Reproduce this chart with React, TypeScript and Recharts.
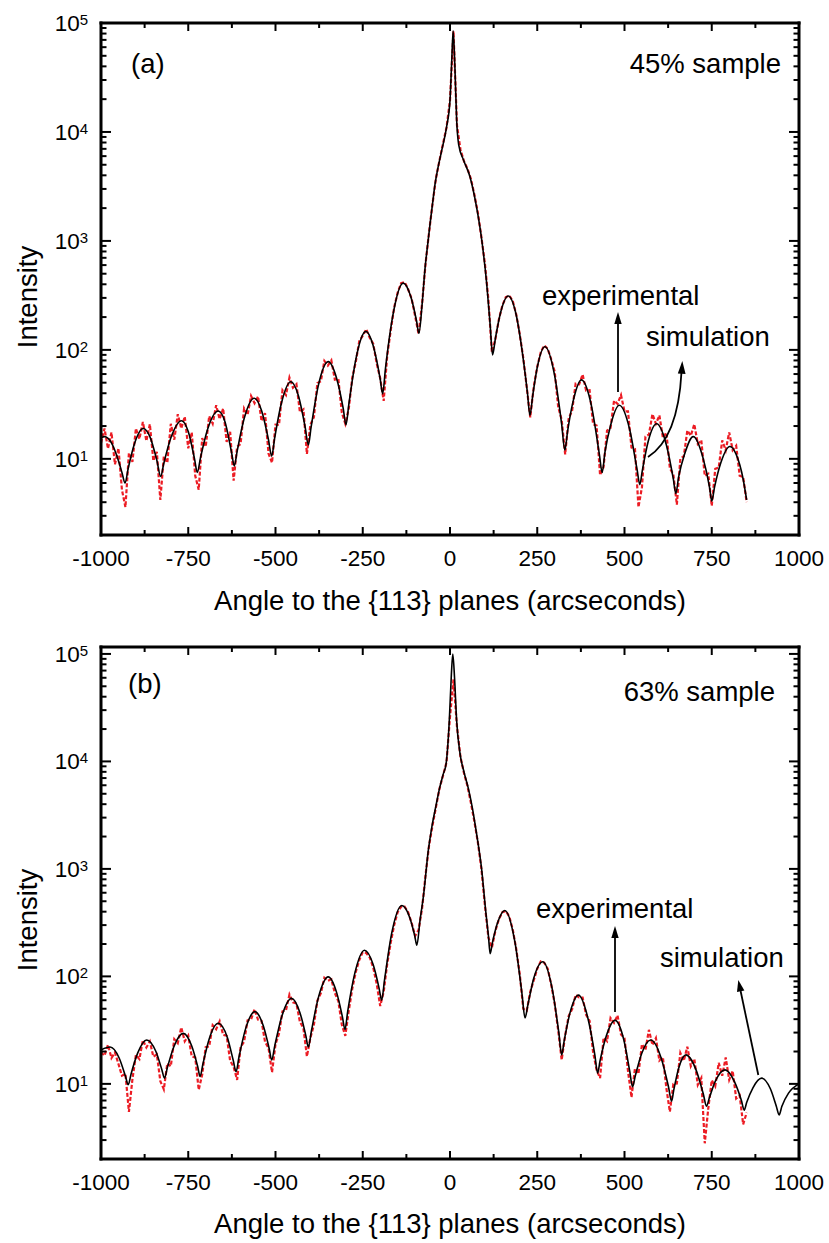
import React from "react";
import { LineChart, Line, XAxis, YAxis } from "recharts";

const FONT = '"Liberation Sans", Arial, Helvetica, sans-serif';

// axis ticks
const xTicks = [-1000, -875, -750, -625, -500, -375, -250, -125, 0, 125, 250, 375, 500, 625, 750, 875, 1000];
const xLabelTicks = [-1000, -750, -500, -250, 0, 250, 500, 750, 1000];
const yMajor = [10, 100, 1000, 10000, 100000];
const yMinor = [
  2, 3, 4, 5, 6, 7, 8, 9,
  20, 30, 40, 50, 60, 70, 80, 90,
  200, 300, 400, 500, 600, 700, 800, 900,
  2000, 3000, 4000, 5000, 6000, 7000, 8000, 9000,
  20000, 30000, 40000, 50000, 60000, 70000, 80000, 90000,
];
const yExponent: Record<number, string> = { 10: "1", 100: "2", 1000: "3", 10000: "4", 100000: "5" };

// simulation (a) 45% sample: [angle, intensity]
const simA: [number, number][] = [
  [-1000, 15.5], [-990, 16], [-970, 14], [-950, 9.6], [-940, 7.5], [-931, 6],
  [-922, 8.2], [-905, 13.5], [-879, 19],
  [-860, 16], [-840, 9.7], [-829, 6.9],
  [-820, 9.1], [-800, 15.5], [-769, 22.4],
  [-750, 17.8], [-732, 10], [-724, 7.5],
  [-715, 10.2], [-695, 18.5], [-664, 27.5],
  [-645, 22], [-626, 11.5], [-618, 8.6],
  [-610, 11.7], [-590, 23.3], [-561, 36],
  [-540, 27.8], [-520, 14.9], [-511, 10.6],
  [-502, 15.8], [-484, 31.5], [-456, 51],
  [-435, 38.5], [-415, 19.5], [-406, 13.4],
  [-398, 19.5], [-378, 46], [-349, 78],
  [-325, 55], [-306, 29], [-298, 20.5],
  [-290, 31.5], [-270, 81.5], [-241, 148],
  [-220, 109], [-200, 53.8], [-193, 39.5],
  [-185, 67], [-164, 205], [-134, 410],
  [-112, 305], [-96, 185], [-89, 142],
  [-80, 260], [-72, 540], [-62, 1050], [-57, 1450], [-50, 2200], [-43, 3300], [-35, 4600],
  [-24, 6700], [-10, 11000], [0, 19600], [5, 45000], [9, 85000], [14, 40000], [19, 13000],
  [25, 7600], [39, 5500], [57, 3900], [76, 2050], [91, 1020], [105, 410], [115, 170], [122, 90],
  [130, 127], [145, 220], [167, 312],
  [190, 207], [210, 82], [222, 40], [229, 25],
  [237, 38], [250, 69], [272, 107],
  [300, 57.7], [320, 20.7], [329, 12],
  [337, 18], [353, 34], [377, 53],
  [405, 31], [428, 11], [436, 7.5],
  [444, 11.5], [460, 20.2], [485, 31],
  [515, 18.5], [536, 8], [544, 5.8],
  [551, 7.8], [568, 14.5], [592, 21],
  [620, 13.4], [640, 6.5], [647, 4.8],
  [655, 6.8], [672, 11], [697, 16],
  [725, 10.2], [744, 5.4], [750, 4.1],
  [758, 5.5], [776, 9.2], [802, 13],
  [820, 11], [840, 6.5], [850, 4.2],
];

// simulation (b) 63% sample
const simB: [number, number][] = [
  [-1000, 20.7], [-974, 22], [-948, 17.4], [-930, 11.8], [-922, 9.8],
  [-914, 12.3], [-895, 19.3], [-869, 25.6],
  [-843, 20.1], [-826, 13.7], [-818, 11.3],
  [-810, 14.1], [-791, 22.3], [-764, 29.5],
  [-740, 22.5], [-723, 14.5], [-716, 11.7],
  [-708, 15.3], [-690, 26.2], [-664, 36.6],
  [-638, 27], [-621, 16.5], [-613, 13],
  [-605, 17.5], [-586, 32.3], [-559, 47],
  [-535, 34.7], [-518, 21.2], [-511, 16.7],
  [-502, 22.7], [-482, 42.4], [-454, 62.5],
  [-430, 46], [-413, 28], [-406, 22],
  [-397, 31.2], [-377, 63.8], [-349, 99],
  [-325, 71], [-308, 41.6], [-301, 32],
  [-293, 47.6], [-273, 106], [-245, 175],
  [-220, 128], [-203, 77], [-196, 60],
  [-187, 96], [-167, 252], [-138, 457],
  [-116, 357], [-101, 238], [-95, 195],
  [-86, 330], [-76, 560], [-62, 1500], [-52, 2460], [-40, 3900], [-29, 5800], [-20, 7500],
  [-11, 9600], [-2, 24000], [4, 65000], [8, 100000], [13, 60000], [19, 24000], [29, 11700],
  [40, 8000], [52, 5700], [64, 3700], [76, 2140], [91, 970], [103, 385], [110, 240], [115, 163],
  [121, 202], [136, 313], [157, 410],
  [186, 209], [206, 70], [215, 41],
  [223, 54], [240, 96], [266, 137],
  [293, 76], [312, 29.6], [320, 18.6],
  [327, 25], [344, 46], [368, 67],
  [395, 41], [415, 18.6], [423, 12.6],
  [430, 16.4], [448, 28], [473, 39],
  [498, 25.7], [515, 13.1], [523, 9.4],
  [531, 11.9], [549, 19.1], [575, 25.6],
  [605, 17.4], [626, 9.4], [635, 6.9],
  [641, 8.7], [655, 13.9], [676, 18.6],
  [705, 13.5], [726, 8.0], [735, 6.2],
  [743, 7.4], [761, 10.7], [788, 13.5],
  [815, 10.5], [835, 7.0], [843, 5.7],
  [850, 6.7], [868, 9.2], [893, 11.3],
  [918, 9.0], [935, 6.2], [943, 5.15],
  [951, 6.2], [970, 8.2], [1000, 10],
];

// experimental scans, one reading every 10 arcsec from -1000 to 850
const expStart = -1000;
const expStep = 10;
const expA = [
  14, 19, 12.4, 17.5, 8.9, 12.5, 5.2, 3.6, 11.3, 9.4,
  19, 15.2, 21.8, 14.6, 20.8, 9.6, 11.6, 4.2, 10.5, 9.2,
  21, 15, 25.7, 19, 24.4, 12.5, 17.5, 7, 5.2, 15.5,
  12.9, 24.7, 21, 31, 23.2, 29, 14.3, 17.7, 6.3, 12.9,
  13.7, 29, 25.3, 37.8, 32.4, 37.4, 22.2, 26.3, 11.2, 9.2,
  20.6, 20.5, 42.7, 38.5, 55.7, 44.9, 48.5, 26.8, 28.4, 11.1,
  20.6, 24.1, 49.5, 51.6, 79.2, 71.8, 80, 53.4, 54.4, 26.6,
  21, 29, 55.7, 77.4, 120, 135, 155, 129, 114, 74.8,
  55, 34, 88, 150, 245, 335, 410, 420, 360, 295,
  205, 140, 265, 620, 1200, 2200, 3800, 5500, 7800, 11000,
  19500, 84000, 11500, 6900, 5400, 4600, 3700, 2650, 1800, 1080,
  620, 290, 95, 125, 190, 255, 305, 315, 280, 210,
  138, 84, 45, 24, 46, 70, 95, 110, 102, 82,
  63, 30, 22.8, 11, 23.3, 27.8, 49, 48.3, 59.4, 42.3,
  42.6, 20.8, 20.2, 7.1, 8.4, 18.2, 19.2, 34.2, 32, 38.5,
  27.3, 27.3, 12.7, 12.3, 3.6, 5.5, 16, 16.7, 25.7, 21,
  25.1, 15.6, 17.4, 8.2, 7.2, 3.8, 10, 10.6, 18.2, 16.3,
  20.8, 13.7, 14.8, 7, 7.3, 3.7, 8.1, 8.3, 14.8, 12,
  17.5, 12, 13.2, 7, 6.8, 4,
];
const expB = [
  19.7, 18.3, 23.1, 17.4, 19.6, 15.3, 11.9, 12.4, 5.5, 11,
  18.6, 17, 25.5, 21.8, 24.8, 17.9, 18.8, 10.6, 8.9, 15.5,
  14.6, 26.1, 23.9, 33.5, 24.9, 28.1, 18, 17.6, 8.8, 12.2,
  22, 22.3, 35.2, 32.3, 38.2, 28.6, 28, 16.4, 14.4, 10.9,
  22, 24.7, 39, 39.8, 49.4, 39.5, 38.5, 24.6, 21.6, 12.8,
  23.4, 29.3, 47.3, 48.4, 67.8, 57.3, 55.9, 37.7, 33, 18,
  26.8, 35.4, 59.5, 69.8, 97, 91, 94, 70, 58.9, 35.7,
  28, 48, 77, 110, 142, 168, 165, 150, 121, 85,
  53, 72, 130, 205, 300, 395, 445, 445, 395, 315,
  238, 270, 430, 880, 1650, 2550, 3800, 5600, 7400, 9800,
  26000, 58000, 21000, 11000, 7800, 5900, 4100, 2750, 1750, 1000,
  460, 230, 185, 265, 340, 395, 405, 360, 270, 178,
  104, 50, 48, 72, 92, 118, 138, 134, 118, 84,
  55.6, 31.4, 16.7, 28.3, 42.8, 49.7, 67.2, 63.7, 63.6, 43.8,
  38.6, 19.8, 13.5, 11.3, 26.9, 25, 41, 36.9, 43.4, 28.8,
  26.5, 13.2, 7.5, 13.9, 12.4, 23.4, 20.7, 31.8, 23, 26.7,
  16.5, 17.7, 9.1, 5.5, 10, 10.1, 19.4, 16.4, 22.2, 14.6,
  17.1, 9.8, 11.3, 2.8, 5.9, 10.8, 9.5, 15.7, 11.9, 17.6,
  10.9, 13.2, 7.3, 7.8, 4.2, 5.4,
];

const toRows = (pairs: [number, number][]) => pairs.map(([x, y]) => ({ x, y }));
const expRows = (vals: number[]) => vals.map((y, i) => ({ x: expStart + i * expStep, y }));

const XTick = ({ x, y, payload, top }: any) => {
  const major = xLabelTicks.includes(payload.value);
  const len = major ? 8 : 5;
  return (
    <g>
      <line x1={x} x2={x} y1={y} y2={top ? y + len : y - len} stroke="#000" strokeWidth={2} />
      {!top && major && (
        <text x={x} y={y + 31} textAnchor="middle" fontSize={22.5} fontFamily={FONT} fill="#000">
          {payload.value}
        </text>
      )}
    </g>
  );
};

const YTick = ({ x, y, payload, right }: any) => {
  const v = payload.value;
  const major = yMajor.includes(v);
  const len = major ? 10 : 5.5;
  return (
    <g>
      <line x1={x} x2={right ? x - len : x + len} y1={y} y2={y} stroke="#000" strokeWidth={2} />
      {!right && major && (
        <text x={x - 13} y={y + 8} textAnchor="end" fontSize={22.5} fontFamily={FONT} fill="#000">
          10
          <tspan dy={-6} fontSize={15}>
            {yExponent[v]}
          </tspan>
        </text>
      )}
    </g>
  );
};

const axisLine = { stroke: "#000", strokeWidth: 3, strokeLinecap: "square" as const };

const Panel = ({
  sim,
  exp,
  yMax,
  height,
  topPad,
  bottomPad,
}: {
  sim: [number, number][];
  exp: number[];
  yMax: number;
  height: number;
  topPad: number;
  bottomPad: number;
}) => {
  const yTicks = [...yMinor, ...yMajor].filter((t) => t <= yMax).sort((a, b) => a - b);
  return (
    <LineChart width={829} height={height} margin={{ top: 0, right: 0, bottom: 0, left: 0 }}>
      <XAxis
        xAxisId="b"
        dataKey="x"
        type="number"
        domain={[-1000, 1000]}
        ticks={xTicks}
        interval={0}
        allowDataOverflow
        height={bottomPad}
        tickLine={false}
        tickSize={0}
        tickMargin={0}
        axisLine={axisLine}
        tick={(p: any) => <XTick {...p} />}
      />
      <XAxis
        xAxisId="t"
        orientation="top"
        dataKey="x"
        type="number"
        domain={[-1000, 1000]}
        ticks={xTicks}
        interval={0}
        allowDataOverflow
        height={topPad}
        tickLine={false}
        tickSize={0}
        tickMargin={0}
        axisLine={axisLine}
        tick={(p: any) => <XTick {...p} top />}
      />
      <YAxis
        yAxisId="l"
        type="number"
        scale="log"
        domain={[2, yMax]}
        ticks={yTicks}
        interval={0}
        allowDataOverflow
        width={101}
        tickLine={false}
        tickSize={0}
        tickMargin={0}
        axisLine={axisLine}
        tick={(p: any) => <YTick {...p} />}
      />
      <YAxis
        yAxisId="r"
        orientation="right"
        type="number"
        scale="log"
        domain={[2, yMax]}
        ticks={yTicks}
        interval={0}
        allowDataOverflow
        width={30}
        tickLine={false}
        tickSize={0}
        tickMargin={0}
        axisLine={axisLine}
        tick={(p: any) => <YTick {...p} right />}
      />
      <Line
        xAxisId="b"
        yAxisId="l"
        data={expRows(exp)}
        dataKey="y"
        type="linear"
        stroke="#ec1c24"
        strokeWidth={2.2}
        strokeDasharray="4 2"
        dot={false}
        isAnimationActive={false}
      />
      <Line
        xAxisId="b"
        yAxisId="l"
        data={toRows(sim)}
        dataKey="y"
        type="monotone"
        stroke="#000"
        strokeWidth={1.6}
        dot={false}
        isAnimationActive={false}
      />
    </LineChart>
  );
};

const txt = { fontFamily: FONT, fontSize: 27.5, fill: "#000" };

export default function App() {
  return (
    <div style={{ position: "absolute", left: 0, top: 0, width: 829, height: 1243, background: "#fff" }}>
      <div style={{ position: "absolute", left: 0, top: 0 }}>
        <Panel sim={simA} exp={expA} yMax={100000} height={620} topPad={23} bottomPad={85} />
      </div>
      <div style={{ position: "absolute", left: 0, top: 620 }}>
        <Panel sim={simB} exp={expB} yMax={116000} height={623} topPad={27} bottomPad={84} />
      </div>
      <svg
        width={829}
        height={1243}
        style={{ position: "absolute", left: 0, top: 0, pointerEvents: "none" }}
      >
        {/* panel (a) */}
        <text x={131} y={73} {...txt}>(a)</text>
        <text x={781} y={73} textAnchor="end" {...txt}>45% sample</text>
        <text x={542} y={305} {...txt}>experimental</text>
        <text x={646} y={345.5} {...txt}>simulation</text>
        <line x1={618} y1={392} x2={618} y2={322} stroke="#000" strokeWidth={1.8} />
        <path d="M618,312 L614.3,324 L621.7,324 Z" fill="#000" />
        <path d="M648,457 Q678,438 681.5,372" fill="none" stroke="#000" strokeWidth={1.8} />
        <path d="M682.3,361 L677.8,373.5 L685.6,374 Z" fill="#000" />
        <text x={450} y={610} textAnchor="middle" {...txt}>Angle to the {"{113}"} planes (arcseconds)</text>
        <text x={36.5} y={297} textAnchor="middle" transform="rotate(-90 36.5 297)" {...txt}>Intensity</text>

        {/* panel (b) */}
        <text x={128} y={693} {...txt}>(b)</text>
        <text x={775} y={701} textAnchor="end" {...txt}>63% sample</text>
        <text x={536} y={918} {...txt}>experimental</text>
        <text x={660} y={966.5} {...txt}>simulation</text>
        <line x1={615} y1={1012} x2={615} y2={936} stroke="#000" strokeWidth={1.8} />
        <path d="M615,926 L611.3,938 L618.7,938 Z" fill="#000" />
        <line x1={758.3} y1={1075} x2={740.6} y2={991} stroke="#000" strokeWidth={1.8} />
        <path d="M738.3,980 L737,992 L744.4,990.4 Z" fill="#000" />
        <text x={450} y={1233} textAnchor="middle" {...txt}>Angle to the {"{113}"} planes (arcseconds)</text>
        <text x={36.5} y={920} textAnchor="middle" transform="rotate(-90 36.5 920)" {...txt}>Intensity</text>
      </svg>
    </div>
  );
}
